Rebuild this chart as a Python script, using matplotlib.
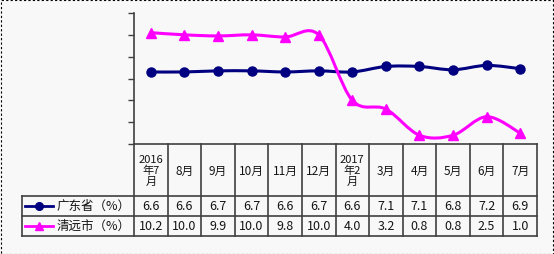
import numpy as np
import matplotlib.pyplot as plt
from matplotlib.path import Path
from matplotlib.patches import PathPatch, Rectangle

plt.rcParams['font.family'] = ['Noto Sans CJK SC', 'DejaVu Sans']

# data
months = ['2016\n年7\n月', '8月', '9月', '10月', '11月', '12月',
          '2017\n年2\n月', '3月', '4月', '5月', '6月', '7月']
gd_name = '广东省（%）'
qy_name = '清远市（%）'
gd = [6.6, 6.6, 6.7, 6.7, 6.6, 6.7, 6.6, 7.1, 7.1, 6.8, 7.2, 6.9]
qy = [10.2, 10.0, 9.9, 10.0, 9.8, 10.0, 4.0, 3.2, 0.8, 0.8, 2.5, 1.0]

W, H = 554, 255
bg = '#f8f8f8'
fig = plt.figure(figsize=(W / 100, H / 100), dpi=100, facecolor=bg)

# pixel layout
x0, x1 = 134, 537
ytop, ybot = 14, 145
row1, row2, row3 = 197, 216.5, 236.5
leg_left = 22


def fx(px):
    return px / W


def fy(py):
    return 1 - py / H


ax = fig.add_axes([fx(x0), fy(ybot), fx(x1) - fx(x0), fy(ytop) - fy(ybot)])
ax.set_facecolor(bg)
n = len(months)
xs = np.arange(n)
ax.set_xlim(-0.5, n - 0.5)
ax.set_ylim(0, 12)
ax.set_yticks(np.arange(0, 13, 2))
ax.set_yticklabels([])
ax.set_xticks([])
for s in ['top', 'right', 'bottom']:
    ax.spines[s].set_visible(False)
ax.spines['left'].set_color('#404040')
ax.spines['left'].set_linewidth(1.2)
ax.tick_params(axis='y', direction='out', length=4, color='#404040', width=1)


def smooth(x, y, color):
    pts = np.column_stack([x, y]).astype(float)
    verts = [pts[0]]
    codes = [Path.MOVETO]
    for i in range(len(pts) - 1):
        p0 = pts[i - 1] if i > 0 else pts[i]
        p1, p2 = pts[i], pts[i + 1]
        p3 = pts[i + 2] if i + 2 < len(pts) else pts[i + 1]
        c1 = p1 + (p2 - p0) / 6
        c2 = p2 - (p3 - p1) / 6
        verts += [c1, c2, p2]
        codes += [Path.CURVE4] * 3
    ax.add_patch(PathPatch(Path(verts, codes), fc='none', ec=color,
                           lw=2.2, clip_on=False))


gd_color = '#000080'
qy_color = '#ff00ff'
smooth(xs, gd, gd_color)
smooth(xs, qy, qy_color)
ax.plot(xs, gd, 'o', color=gd_color, ms=6.5, clip_on=False)
ax.plot(xs, qy, '^', color=qy_color, ms=7, clip_on=False)

# table
tab = fig.add_axes([0, 0, 1, 1])
tab.set_xlim(0, W)
tab.set_ylim(H, 0)
tab.axis('off')
tab.patch.set_alpha(0)
lc = '#404040'
tc = '#151515'
cw = (x1 - x0) / n
cols = [x0 + i * cw for i in range(n + 1)]
tab.plot([x0, x1], [ybot, ybot], color=lc, lw=1.2)
for y in (row1, row2, row3):
    tab.plot([leg_left, x1], [y, y], color=lc, lw=1.2)
for c in cols:
    tab.plot([c, c], [ybot, row3], color=lc, lw=1.2)
tab.plot([leg_left, leg_left], [row1, row3], color=lc, lw=1.2)

for i, m in enumerate(months):
    cx = cols[i] + cw / 2
    if '\n' in m:
        tab.text(cx, (ybot + row1) / 2, m, ha='center', va='center',
                 fontsize=8, linespacing=1.05, color=tc)
    else:
        tab.text(cx, (ybot + row1) / 2, m, ha='center', va='center',
                 fontsize=8.5, color=tc)
    tab.text(cx, (row1 + row2) / 2, f'{gd[i]:.1f}', ha='center', va='center',
             fontsize=9, color=tc)
    tab.text(cx, (row2 + row3) / 2, f'{qy[i]:.1f}', ha='center', va='center',
             fontsize=9, color=tc)

for yc, name, color, mk, ms in [((row1 + row2) / 2, gd_name, gd_color, 'o', 5.5),
                                ((row2 + row3) / 2, qy_name, qy_color, '^', 6)]:
    tab.plot([25, 53], [yc, yc], color=color, lw=2)
    tab.plot([39], [yc], mk, color=color, ms=ms)
    tab.text(57, yc, name, ha='left', va='center', fontsize=9, color=tc)

# dashed frame around the picture
fig.patches.append(Rectangle((0.5 / W, 0.5 / H), 1 - 1.5 / W, 1 - 1.5 / H,
                             transform=fig.transFigure, fill=False,
                             ec='black', lw=0.8, ls=(0, (2, 2))))

fig.savefig('out.png', dpi=100, facecolor=bg)
